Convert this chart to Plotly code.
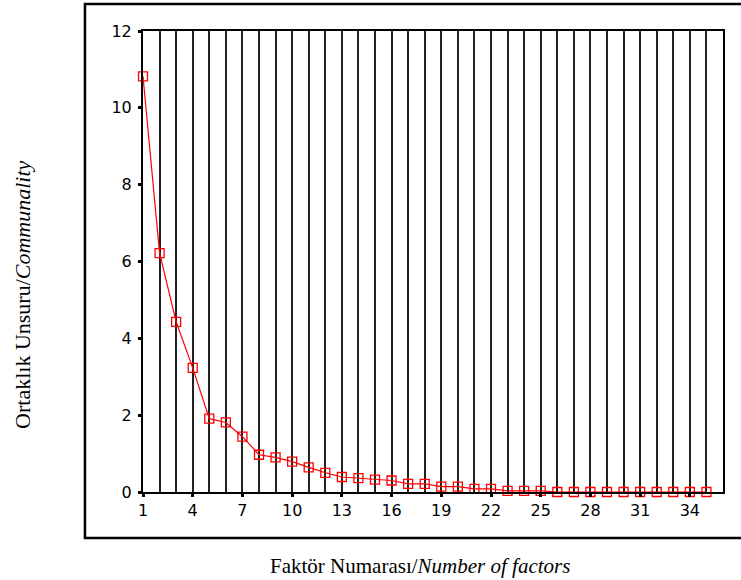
import plotly.graph_objects as go

factors = list(range(1, 36))
communality = [10.82, 6.22, 4.43, 3.23, 1.91, 1.81, 1.44, 0.97, 0.90, 0.79,
               0.64, 0.50, 0.39, 0.36, 0.32, 0.30, 0.21, 0.21, 0.14, 0.14,
               0.08, 0.08, 0.03, 0.03, 0.03, 0.0, 0.0, 0.0, 0.0, 0.0,
               0.0, 0.0, 0.0, 0.0, 0.0]
x_tick_vals = list(range(1, 36, 3))
y_tick_vals = [0, 2, 4, 6, 8, 10, 12]
x_title = "Faktör Numarası/<i>Number of factors</i>"
y_title = "Ortaklık Unsuru/<i>Communality</i>"

W, H = 741, 580
L, R, T, B = 143, 722.7, 31, 492

def px(x):
    return (x - L) / (R - L)

def py(y):
    return (B - y) / (B - T)

fig = go.Figure()
fig.add_trace(go.Scatter(
    x=factors, y=communality, mode="lines+markers",
    line=dict(color="red", width=1.2),
    marker=dict(symbol="square-open", size=9, color="red", line=dict(width=1.3, color="red")),
    cliponaxis=False, showlegend=False,
))

fig.update_layout(
    width=W, height=H,
    margin=dict(l=L, r=W - R, t=T, b=H - B, pad=0),
    paper_bgcolor="white", plot_bgcolor="white",
    font=dict(family="DejaVu Sans", size=16, color="black"),
    xaxis=dict(
        range=[1, 36], tickmode="array", tickvals=x_tick_vals,
        showgrid=True, gridcolor="#222222", gridwidth=1.5,
        minor=dict(tick0=1, dtick=1, showgrid=True, gridcolor="#222222", gridwidth=1.5, ticks=""),
        showline=True, linecolor="black", linewidth=2, mirror=True,
        ticks="outside", ticklen=3, tickwidth=3, tickcolor="black",
        zeroline=False, tickfont=dict(size=16),
    ),
    yaxis=dict(
        range=[0, 12], tickmode="array", tickvals=y_tick_vals,
        showgrid=False, zeroline=False,
        showline=True, linecolor="black", linewidth=2, mirror=True,
        ticks="outside", ticklen=3, tickwidth=3, tickcolor="black",
        tickfont=dict(size=16), ticklabelstandoff=3,
    ),
    shapes=[dict(type="rect", xref="paper", yref="paper",
                 x0=px(85), x1=px(770), y0=py(538), y1=py(4),
                 line=dict(color="black", width=2.5), fillcolor="rgba(0,0,0,0)", layer="above")],
    annotations=[
        dict(text=x_title, xref="paper", yref="paper", x=px(420), y=py(566),
             showarrow=False, xanchor="center", yanchor="middle",
             font=dict(family="Liberation Serif", size=21, color="black")),
        dict(text=y_title, xref="paper", yref="paper", x=px(22), y=py(295),
             showarrow=False, xanchor="center", yanchor="middle", textangle=-90,
             font=dict(family="Liberation Serif", size=22, color="black")),
    ],
)

fig.write_html("out.html", config={"displayModeBar": False},
               post_script="document.body.style.margin='0px';")
